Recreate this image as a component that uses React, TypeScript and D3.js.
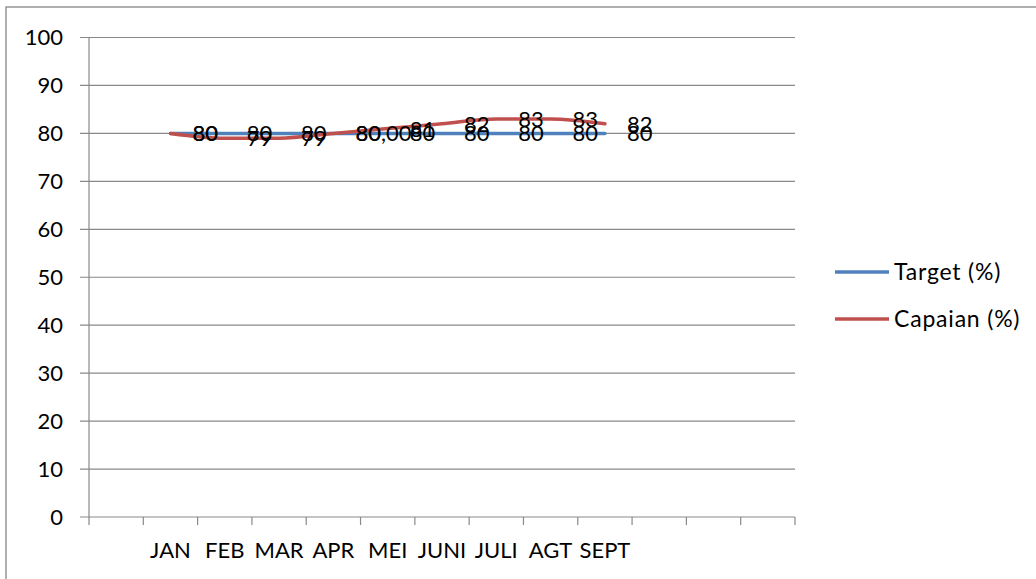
import React from 'react';
import * as d3 from 'd3';

// slots on the category axis (Excel left blanks before and after the months)
const axisSlots = ['', 'JAN', 'FEB', 'MAR', 'APR', 'MEI', 'JUNI', 'JULI', 'AGT', 'SEPT', '', '', ''];
const months = ['JAN', 'FEB', 'MAR', 'APR', 'MEI', 'JUNI', 'JULI', 'AGT', 'SEPT'];
const target = [80, 80, 80, 80, 80, 80, 80, 80, 80];
const capaian = [80, 79, 79, 80, 81, 82, 83, 83, 82];
const capaianLabels = ['80', '79', '79', '80,00', '81', '82', '83', '83', '82'];
const yTicks = [0, 10, 20, 30, 40, 50, 60, 70, 80, 90, 100];

const series = [
  { name: 'Target (%)', values: target, labels: target.map(String), color: '#4F81BD' },
  { name: 'Capaian (%)', values: capaian, labels: capaianLabels, color: '#C0504D' },
];

const font = "Lato, 'Open Sans', sans-serif";

const App: React.FC = () => {
  const width = 1036;
  const height = 579;
  const plot = { left: 89, right: 795, top: 37.5, bottom: 517 };

  const x = d3.scaleBand<number>()
    .domain(d3.range(axisSlots.length))
    .range([plot.left, plot.right])
    .padding(0);
  const y = d3.scaleLinear().domain([0, 100]).range([plot.bottom, plot.top]);

  const slotOf = (m: string) => axisSlots.indexOf(m);
  const cx = (m: string) => (x(slotOf(m)) ?? 0) + x.bandwidth() / 2;

  const line = d3.line<number>()
    .x((_, i) => cx(months[i]))
    .y(d => y(d))
    .curve(d3.curveMonotoneX);

  const tickXs = d3.range(axisSlots.length + 1).map(i => plot.left + i * x.bandwidth());

  return (
    <svg width={width} height={height} style={{ position: 'absolute', left: 0, top: 0 }} fontFamily={font}>
      <rect x={0} y={0} width={width} height={height} fill="#fff" />
      <rect x={6} y={7} width={width + 10} height={height + 10} fill="none" stroke="#868686" strokeWidth={1.3} />

      {/* gridlines + y ticks */}
      {yTicks.map(t => (
        <g key={t}>
          <line x1={80} x2={plot.right} y1={y(t)} y2={y(t)} stroke="#898989" strokeWidth={1.2} />
          <text x={63} y={y(t)} dy="0.36em" textAnchor="end" fontSize={22} fill="#000">{t}</text>
        </g>
      ))}

      {/* y axis */}
      <line x1={plot.left} x2={plot.left} y1={plot.top} y2={plot.bottom} stroke="#898989" strokeWidth={1.2} />

      {/* x ticks */}
      {tickXs.map((tx, i) => (
        <line key={i} x1={tx} x2={tx} y1={plot.bottom} y2={plot.bottom + 8} stroke="#898989" strokeWidth={1.2} />
      ))}
      {axisSlots.map((s, i) => s ? (
        <text key={i} x={(x(i) ?? 0) + x.bandwidth() / 2} y={558} textAnchor="middle" fontSize={22} fill="#000">{s}</text>
      ) : null)}

      {/* lines */}
      {series.map(s => (
        <path key={s.name} d={line(s.values) ?? ''} fill="none" stroke={s.color} strokeWidth={3.5} strokeLinecap="round" />
      ))}

      {/* data labels */}
      {series.map(s => (
        <g key={s.name}>
          {s.values.map((v, i) => (
            <text key={i} x={cx(months[i]) + 22} y={y(v)} dy="0.36em" fontSize={22} fill="#000">{s.labels[i]}</text>
          ))}
        </g>
      ))}

      {/* legend */}
      {series.map((s, i) => (
        <g key={s.name} transform={`translate(835,${272 + i * 47})`}>
          <line x1={0} x2={54} y1={0} y2={0} stroke={s.color} strokeWidth={3.5} />
          <text x={59} y={0} dy="0.36em" fontSize={23} letterSpacing={0.8} fill="#000">{s.name}</text>
        </g>
      ))}
    </svg>
  );
};

export default App;
